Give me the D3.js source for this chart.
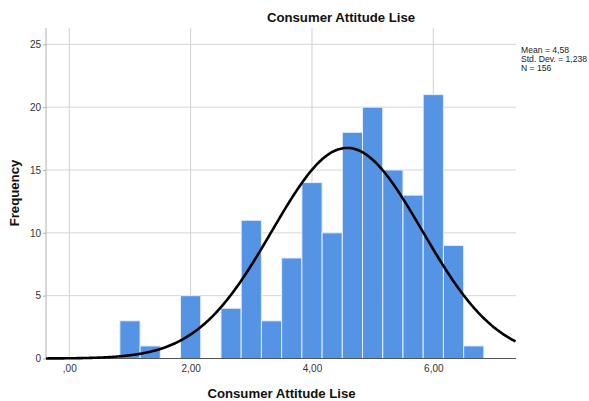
<!DOCTYPE html>
<html>
<head>
<meta charset="utf-8">
<script src="https://cdn.jsdelivr.net/npm/d3@7/dist/d3.min.js"></script>
<style>
  html, body { margin: 0; padding: 0; background: #fff; }
  svg { display: block; font-family: Arial, "Liberation Sans", sans-serif; }
</style>
</head>
<body>
<svg id="chart" width="589" height="401"></svg>
<script>
// Histogram bins (centred on multiples of 1/3) and their frequencies
const binCenters = [1, 4/3, 2, 8/3, 3, 10/3, 11/3, 4, 13/3, 14/3, 5, 16/3, 17/3, 6, 19/3, 20/3];
const frequencies = [3, 1, 5, 4, 11, 3, 8, 14, 10, 18, 20, 15, 13, 21, 9, 1];
const binWidth = 1/3;

// Summary statistics
const mean = 4.58;
const stdDev = 1.238;
const n = 156;
const statLines = ["Mean = 4,58", "Std. Dev. = 1,238", "N = 156"];

// Axis ticks
const xTicks = [0, 2, 4, 6];
const xTickLabels = [",00", "2,00", "4,00", "6,00"];
const yTicks = [0, 5, 10, 15, 20, 25];

const svg = d3.select("#chart");
const plot = { left: 46, right: 516, top: 28, bottom: 358.5 };

const x = d3.scaleLinear().domain([-0.384, 7.363]).range([plot.left, plot.right]);
const y = d3.scaleLinear().domain([0, 26.3]).range([plot.bottom, plot.top]);

// Gridlines
svg.append("g").selectAll("line").data(yTicks.filter(d => d > 0)).join("line")
  .attr("x1", plot.left).attr("x2", plot.right)
  .attr("y1", d => y(d)).attr("y2", d => y(d))
  .attr("stroke", "#d6d6d6").attr("stroke-width", 1);
svg.append("g").selectAll("line").data(xTicks).join("line")
  .attr("x1", d => x(d)).attr("x2", d => x(d))
  .attr("y1", plot.top).attr("y2", plot.bottom)
  .attr("stroke", "#d0d0d0").attr("stroke-width", 1);

// Bars
svg.append("g").selectAll("rect").data(binCenters).join("rect")
  .attr("x", (d) => x(d - binWidth / 2))
  .attr("width", (d) => x(d + binWidth / 2) - x(d - binWidth / 2))
  .attr("y", (d, i) => y(frequencies[i]))
  .attr("height", (d, i) => y(0) - y(frequencies[i]))
  .attr("fill", "#5594e4")
  .attr("stroke", "#e6effb").attr("stroke-width", 1);

// Y axis
const yAxis = d3.axisLeft(y).tickValues(yTicks).tickSize(3).tickPadding(2);
const gy = svg.append("g").attr("transform", `translate(${plot.left},0)`).call(yAxis);
gy.select(".domain").attr("d", `M0,${plot.top}V${plot.bottom}`).attr("stroke", "#b0b0b0");
gy.selectAll(".tick line").attr("stroke", "#b0b0b0");
gy.selectAll(".tick text").attr("font-size", 10).attr("fill", "#333")
  .attr("font-family", "Arial, 'Liberation Sans', sans-serif");

// X axis
const xAxis = d3.axisBottom(x).tickValues(xTicks).tickSize(0).tickPadding(6)
  .tickFormat((d, i) => xTickLabels[i]);
const gx = svg.append("g").attr("transform", `translate(0,${plot.bottom})`).call(xAxis);
gx.select(".domain").attr("d", `M${plot.left},0H${plot.right}`).attr("stroke", "#555");
gx.selectAll(".tick text").attr("font-size", 10).attr("fill", "#333")
  .attr("font-family", "Arial, 'Liberation Sans', sans-serif");

// Normal curve scaled to counts
const pdf = v => n * binWidth * Math.exp(-0.5 * ((v - mean) / stdDev) ** 2) / (stdDev * Math.sqrt(2 * Math.PI));
const xs = d3.range(x.domain()[0], x.domain()[1] + 0.001, 0.02);
svg.append("path")
  .datum(xs)
  .attr("d", d3.line().x(d => x(d)).y(d => y(pdf(d))).curve(d3.curveMonotoneX))
  .attr("fill", "none").attr("stroke", "#000").attr("stroke-width", 2.6);

// Title and axis labels
svg.append("text").attr("x", 341).attr("y", 22).attr("text-anchor", "middle")
  .attr("font-size", 13.2).attr("font-weight", "bold").attr("fill", "#111")
  .text("Consumer Attitude Lise");
svg.append("text").attr("x", 281.5).attr("y", 398).attr("text-anchor", "middle")
  .attr("font-size", 13.2).attr("font-weight", "bold").attr("fill", "#111")
  .text("Consumer Attitude Lise");
svg.append("text").attr("transform", "translate(19,193) rotate(-90)").attr("text-anchor", "middle")
  .attr("font-size", 13.2).attr("font-weight", "bold").attr("fill", "#111")
  .text("Frequency");

// Statistics block
svg.append("g").selectAll("text").data(statLines).join("text")
  .attr("x", 521).attr("y", (d, i) => 53 + i * 9)
  .attr("font-size", 8.6).attr("fill", "#222")
  .text(d => d);
</script>
</body>
</html>
